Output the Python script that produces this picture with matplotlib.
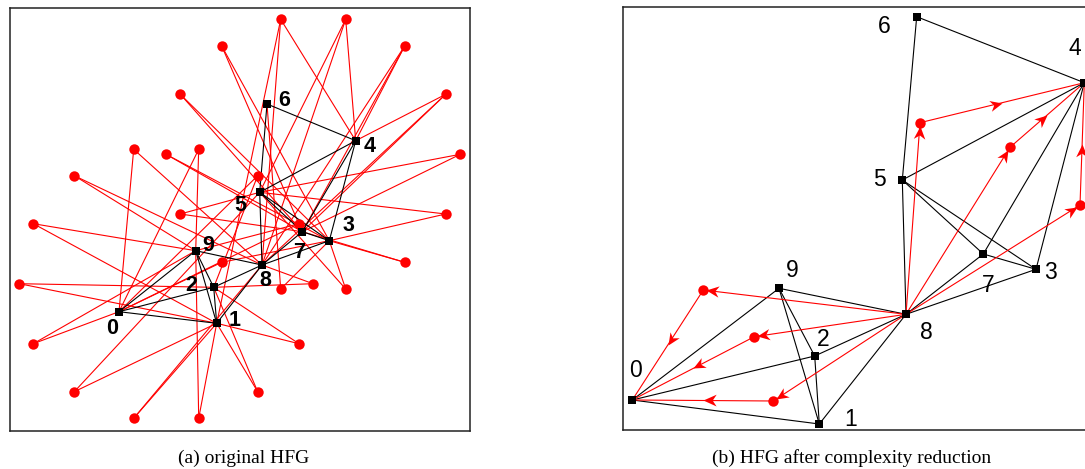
import numpy as np
import matplotlib
matplotlib.use("Agg")
import matplotlib.pyplot as plt
from matplotlib.path import Path

# ---- panel (a): original HFG, coordinates in panel pixels (y down) ----
node_x_a = [109, 206.7, 203.7, 319.3, 345.7, 249.7, 257, 292.3, 252, 185.7]
node_y_a = [303.7, 315.3, 279.3, 232.7, 132.7, 184.3, 96, 223.7, 257, 242.7]
label_x_a = [102.3, 224.3, 181.3, 338.3, 359.3, 230.7, 274.3, 289.3, 255, 198.3]
label_y_a = [320.3, 312, 277, 217.7, 138.7, 197, 92, 244.7, 272, 237]

black_edges = [(0, 9), (0, 2), (0, 1), (9, 8), (9, 2), (9, 1), (2, 8), (2, 1), (1, 8),
               (8, 5), (8, 7), (8, 3), (5, 6), (5, 4), (5, 7), (5, 3), (7, 4), (7, 3),
               (3, 4), (6, 4)]

helper_x_a = [270.7, 335.7, 211.7, 394.7, 170.3, 435.7, 123.7, 188.7, 156, 450.3,
              64.3, 247.7, 170.3, 435.7, 23.3, 289, 211.7, 394.7, 9.3, 303,
              270.7, 335.7, 23.3, 289, 64.3, 247.7, 123.7, 188.7]
helper_y_a = [11.3, 11.3, 38, 38, 86.3, 86.3, 141.3, 141.3, 146.3, 146.3,
              167.7, 167.7, 206, 206, 215.7, 215.7, 254.3, 254.3, 275.7, 275.7,
              281, 281, 335.7, 335.7, 383.7, 383.7, 410.3, 410.3]
helper_links = [[4, 8, 1], [4, 5, 8], [7, 3], [4, 7, 8], [7, 3], [4, 7, 8], [0, 8],
                [0, 9], [7, 3], [5, 7], [9, 8], [0, 2], [5, 7], [5, 3], [9, 1],
                [0, 9], [3, 0], [3, 7], [2, 1], [8, 2], [3, 6], [3, 5], [0, 9],
                [1, 2], [1, 5], [1, 2], [1, 8], [9, 1]]

# ---- panel (b): after complexity reduction ----
node_x_b = [9, 196, 191.4, 412.7, 461, 279, 293.4, 360, 282.7, 155.7]
node_y_b = [392.7, 416.7, 348.7, 262, 75.4, 172.7, 9.4, 246.7, 307, 281]
label_x_b = [12.7, 227.4, 199.4, 426.7, 451.7, 256, 260.7, 364.4, 302.7, 169.4]
label_y_b = [363.4, 412, 331.7, 265.4, 41, 171.7, 19.4, 277.7, 325, 263.4]

relay_x_b = [80, 131, 150, 296.7, 386.7, 456.7]
relay_y_b = [282.7, 329.4, 393.7, 115.4, 140, 197.7]
flows = [(8, 0), (8, 0), (8, 0), (8, 4), (8, 4), (8, 4)]

W, H = 1085, 469
fig = plt.figure(figsize=(W / 100, H / 100), dpi=100)


def make_ax(left, top, w, h):
    ax = fig.add_axes([left / W, 1 - (top + h) / H, w / W, h / H])
    ax.set_xlim(0, w)
    ax.set_ylim(h, 0)
    ax.set_xticks([])
    ax.set_yticks([])
    for s in ax.spines.values():
        s.set_linewidth(1.1)
        s.set_color('#222222')
    return ax


stealth = np.array([[0, 0], [-1, 0.45], [-0.7, 0], [-1, -0.45], [0, 0]])


def arrow_head(ax, x, y, dx, dy):
    ang = np.arctan2(-dy, dx)
    c, s = np.cos(ang), np.sin(ang)
    v = stealth @ np.array([[c, s], [-s, c]])
    path = Path(v, [Path.MOVETO, Path.LINETO, Path.LINETO, Path.LINETO, Path.CLOSEPOLY])
    ax.plot([x], [y], marker=path, markersize=19, color='red', mec='red', mew=0, zorder=6)


# panel (a)
ax1 = make_ax(10, 8, 460, 423)
for i, links in enumerate(helper_links):
    for j in links:
        ax1.plot([helper_x_a[i], node_x_a[j]], [helper_y_a[i], node_y_a[j]],
                 color='red', lw=0.8, zorder=2)
for a, b in black_edges:
    ax1.plot([node_x_a[a], node_x_a[b]], [node_y_a[a], node_y_a[b]],
             color='black', lw=0.8, zorder=3)
ax1.plot(helper_x_a, helper_y_a, 'o', color='red', ms=7.5, mew=0, zorder=4)
ax1.plot(node_x_a, node_y_a, 's', color='black', ms=5.5, mew=0, zorder=5)
for k in range(10):
    ax1.text(label_x_a[k], label_y_a[k], str(k), fontsize=15.5, fontweight='bold',
             family='Liberation Sans', ha='center', va='center', zorder=7)

# panel (b)
ax2 = make_ax(623.3, 7.3, 472, 423)
for a, b in black_edges:
    ax2.plot([node_x_b[a], node_x_b[b]], [node_y_b[a], node_y_b[b]],
             color='black', lw=0.8, zorder=3)
for k, (src, dst) in enumerate(flows):
    rx, ry = relay_x_b[k], relay_y_b[k]
    sx, sy = node_x_b[src], node_y_b[src]
    tx, ty = node_x_b[dst], node_y_b[dst]
    ax2.plot([sx, rx, tx], [sy, ry, ty], color='red', lw=0.8, zorder=4)
    d1 = np.array([rx - sx, ry - sy])
    d1 = d1 / np.hypot(*d1)
    arrow_head(ax2, rx - 3 * d1[0], ry - 3 * d1[1], d1[0], d1[1])
    arrow_head(ax2, (rx + tx) / 2, (ry + ty) / 2, tx - rx, ty - ry)
ax2.plot(relay_x_b, relay_y_b, 'o', color='red', ms=7.5, mew=0, zorder=5)
ax2.plot(node_x_b, node_y_b, 's', color='black', ms=5.5, mew=0, zorder=5)
for k in range(10):
    ax2.text(label_x_b[k], label_y_b[k], str(k), fontsize=16.5,
             family='Liberation Sans', ha='center', va='center', zorder=7)

fig.text(244 / W, 1 - 458 / H, '(a) original HFG', family='Liberation Serif',
         fontsize=14, ha='center', va='center')
fig.text(852 / W, 1 - 458 / H, '(b) HFG after complexity reduction',
         family='Liberation Serif', fontsize=14, ha='center', va='center')

fig.savefig('out.png', dpi=100)
